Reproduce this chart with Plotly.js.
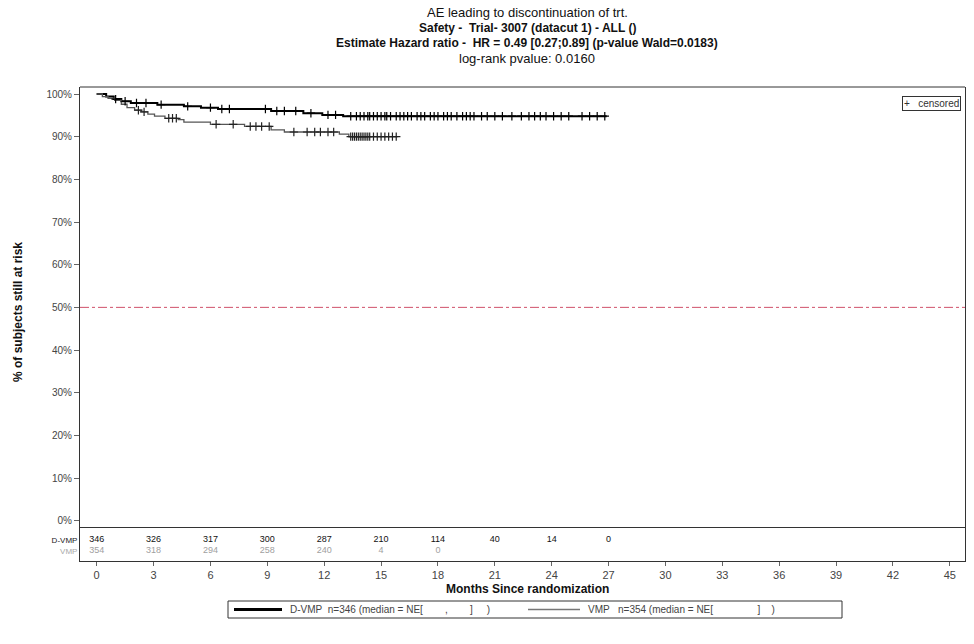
<!DOCTYPE html>
<html>
<head>
<meta charset="utf-8">
<script src="https://cdn.plot.ly/plotly-3.0.1.min.js"></script>
<style>
  html, body { margin: 0; padding: 0; background: #fff; }
  #chart { width: 974px; height: 644px; }
</style>
</head>
<body>
<div id="chart"></div>
<script>
// Kaplan-Meier step points (months, % still at risk)
const dvmpTime = [0, 0.5, 0.9, 1.3, 1.8, 3.2, 4.6, 5.5, 6.4, 9.2, 10.9, 11.9, 13.0, 26.9];
const dvmpSurv = [100, 99.4, 98.8, 98.3, 97.9, 97.5, 97.1, 96.8, 96.5, 96.0, 95.5, 95.1, 94.8, 94.8];

const vmpTime = [0, 0.3, 0.6, 0.95, 1.3, 1.6, 2.0, 2.35, 2.7, 3.05, 3.6, 4.3, 4.6, 6.0, 7.8, 9.2, 9.9, 12.8, 13.3, 15.9];
const vmpSurv = [100, 99.4, 99.0, 98.5, 97.6, 96.8, 96.2, 95.8, 95.3, 94.8, 94.3, 94.0, 93.4, 92.9, 92.4, 91.6, 91.1, 90.6, 90.0, 90.0];

// censoring times
const dvmpCens = [1.0, 1.5, 2.1, 2.6, 3.4, 4.8, 6.0, 6.6, 7.0, 8.9, 9.5, 9.9, 10.5, 11.3, 12.2, 12.6,
  13.4, 13.7, 13.9, 14.1, 14.3, 14.4, 14.6, 14.8, 15.0, 15.2, 15.3, 15.5, 15.8, 16.0, 16.2, 16.4,
  16.6, 16.9, 17.1, 17.3, 17.6, 17.8, 18.0, 18.3, 18.5, 18.7, 19.0, 19.3, 19.5, 19.7, 19.9, 20.3,
  20.6, 21.0, 21.4, 21.9, 22.4, 22.8, 23.1, 23.4, 23.7, 24.1, 24.5, 24.9, 25.6, 26.0, 26.4, 26.8];
const vmpCens = [2.2, 2.5, 3.8, 4.0, 4.2, 6.3, 7.2, 8.1, 8.4, 8.7, 9.1, 10.4, 11.1, 11.5, 11.8, 12.2,
  12.5, 13.4, 13.5, 13.6, 13.7, 13.8, 13.9, 14.0, 14.1, 14.2, 14.3, 14.4, 14.6, 14.8, 15.0, 15.2, 15.4, 15.6, 15.8];

// numbers at risk
const riskMonths = [0, 3, 6, 9, 12, 15, 18, 21, 24, 27];
const dvmpRisk = [346, 326, 317, 300, 287, 210, 114, 40, 14, 0];
const vmpRisk = [354, 318, 294, 258, 240, 4, 0];

const xTicks = [0, 3, 6, 9, 12, 15, 18, 21, 24, 27, 30, 33, 36, 39, 42, 45];
const yTicks = [0, 10, 20, 30, 40, 50, 60, 70, 80, 90, 100];

// value of a step curve at time t
function stepAt(times, surv, t) {
  let v = surv[0];
  for (let i = 0; i < times.length; i++) {
    if (times[i] <= t) v = surv[i];
  }
  return v;
}

const nb = '\u00a0';
const sp = n => nb.repeat(n);
const font = 'Liberation Sans, Arial, sans-serif';

// pixel -> paper helpers (plot area: x 80..965, y 87..561)
const px = v => (v - 80) / 885;
const py = v => (561 - v) / 474;

const traces = [
  {
    x: dvmpTime, y: dvmpSurv, type: 'scatter', mode: 'lines',
    line: { shape: 'hv', color: '#000000', width: 2 }, showlegend: false, hoverinfo: 'skip'
  },
  {
    x: vmpTime, y: vmpSurv, type: 'scatter', mode: 'lines',
    line: { shape: 'hv', color: '#555555', width: 1.3 }, showlegend: false, hoverinfo: 'skip'
  },
  {
    x: dvmpCens, y: dvmpCens.map(t => stepAt(dvmpTime, dvmpSurv, t)),
    type: 'scatter', mode: 'markers', showlegend: false, hoverinfo: 'skip',
    marker: { symbol: 'cross-thin-open', size: 6, color: '#000000', line: { color: '#000000', width: 1.2 } }
  },
  {
    x: vmpCens, y: vmpCens.map(t => stepAt(vmpTime, vmpSurv, t)),
    type: 'scatter', mode: 'markers', showlegend: false, hoverinfo: 'skip',
    marker: { symbol: 'cross-thin-open', size: 6, color: '#222222', line: { color: '#222222', width: 1.2 } }
  },
  {
    x: riskMonths, y: riskMonths.map(() => 0.64), yaxis: 'y2',
    type: 'scatter', mode: 'text', text: dvmpRisk.map(String), showlegend: false, hoverinfo: 'skip',
    textfont: { family: font, size: 9, color: '#111111' }
  },
  {
    x: riskMonths.slice(0, vmpRisk.length), y: vmpRisk.map(() => 0.31), yaxis: 'y2',
    type: 'scatter', mode: 'text', text: vmpRisk.map(String), showlegend: false, hoverinfo: 'skip',
    textfont: { family: font, size: 9, color: '#a0a0a0' }
  }
];

const title = (text, size, center) => ({
  text: text, xref: 'paper', yref: 'paper', x: px(527), y: py(center),
  xanchor: 'center', yanchor: 'middle', showarrow: false,
  font: { family: font, size: size, color: '#111111' }
});

const layout = {
  width: 974,
  height: 644,
  margin: { l: 80, r: 9, t: 87, b: 83 },
  paper_bgcolor: '#ffffff',
  plot_bgcolor: '#ffffff',
  font: { family: font, size: 10, color: '#333333' },
  showlegend: false,
  xaxis: {
    range: [-0.88, 45.8], anchor: 'y2',
    tickvals: xTicks, ticktext: xTicks.map(String),
    ticks: 'outside', ticklen: 4, tickcolor: '#666666',
    showline: true, linecolor: '#333333', linewidth: 1, mirror: true,
    showgrid: false, zeroline: false,
    tickfont: { family: font, size: 11, color: '#444444' }
  },
  yaxis: {
    domain: [0.0696, 1], range: [-1.71, 101.64],
    tickvals: yTicks, ticktext: yTicks.map(v => v + '%'),
    ticks: 'outside', ticklen: 5, tickcolor: '#666666',
    showline: true, linecolor: '#333333', linewidth: 1, mirror: true,
    showgrid: false, zeroline: false,
    tickfont: { family: font, size: 10, color: '#444444' }
  },
  yaxis2: {
    domain: [0, 0.0696], range: [0, 1],
    tickvals: [0.64, 0.31],
    ticktext: ['D-VMP', '<span style="color:#a8a8a8">VMP</span>'],
    ticks: '', showline: true, linecolor: '#333333', linewidth: 1, mirror: true,
    showgrid: false, zeroline: false,
    tickfont: { family: font, size: 8, color: '#222222' }
  },
  shapes: [
    { type: 'line', xref: 'paper', yref: 'paper', x0: 0, x1: 1, y0: 1, y1: 1,
      line: { color: '#333333', width: 1 } },
    { type: 'line', xref: 'x domain', yref: 'y', x0: 0, x1: 1, y0: 50, y1: 50,
      line: { color: '#d0506a', width: 1, dash: 'dashdot' } },
    // legend box and its line samples
    { type: 'rect', xref: 'paper', yref: 'paper', x0: px(228), x1: px(842), y0: py(601), y1: py(618),
      line: { color: '#333333', width: 1 }, fillcolor: '#ffffff' },
    { type: 'line', xref: 'paper', yref: 'paper', x0: px(234), x1: px(282), y0: py(609.5), y1: py(609.5),
      line: { color: '#000000', width: 3 } },
    { type: 'line', xref: 'paper', yref: 'paper', x0: px(528), x1: px(580), y0: py(609.5), y1: py(609.5),
      line: { color: '#777777', width: 1.5 } }
  ],
  annotations: [
    title('AE leading to discontinuation of trt.', 13, 13),
    title('<b>Safety -  Trial- 3007 (datacut 1) - ALL ()</b>', 12, 28),
    title('<b>Estimate Hazard ratio -  HR = 0.49 [0.27;0.89] (p-value Wald=0.0183)</b>', 12, 43),
    title('log-rank pvalue: 0.0160', 13, 58.5),
    {
      text: '<b>Months Since randomization</b>', xref: 'paper', yref: 'paper', x: px(527), y: py(589),
      xanchor: 'center', yanchor: 'middle', showarrow: false,
      font: { family: font, size: 12, color: '#111111' }
    },
    {
      text: '<b>% of subjects still at risk</b>', xref: 'paper', yref: 'paper', x: px(18), y: py(312),
      xanchor: 'center', yanchor: 'middle', textangle: -90, showarrow: false,
      font: { family: font, size: 12, color: '#111111' }
    },
    {
      text: '+' + sp(3) + 'censored', xref: 'paper', yref: 'paper', x: px(965), y: py(96),
      xanchor: 'right', yanchor: 'top', xshift: -4, showarrow: false,
      bordercolor: '#333333', borderwidth: 1, borderpad: 1, bgcolor: '#ffffff',
      font: { family: font, size: 10, color: '#333333' }
    },
    {
      text: 'D-VMP' + sp(2) + 'n=346 (median = NE[' + sp(8) + ',' + sp(8) + ']' + sp(5) + ')',
      xref: 'paper', yref: 'paper', x: px(288), y: py(609.5), xanchor: 'left', yanchor: 'middle',
      showarrow: false, font: { family: font, size: 10, color: '#444444' }
    },
    {
      text: 'VMP' + sp(3) + 'n=354 (median = NE[' + sp(16) + ']' + sp(4) + ')',
      xref: 'paper', yref: 'paper', x: px(586), y: py(609.5), xanchor: 'left', yanchor: 'middle',
      showarrow: false, font: { family: font, size: 10, color: '#444444' }
    }
  ]
};

Plotly.newPlot('chart', traces, layout, { displayModeBar: false, staticPlot: true });
</script>
</body>
</html>
